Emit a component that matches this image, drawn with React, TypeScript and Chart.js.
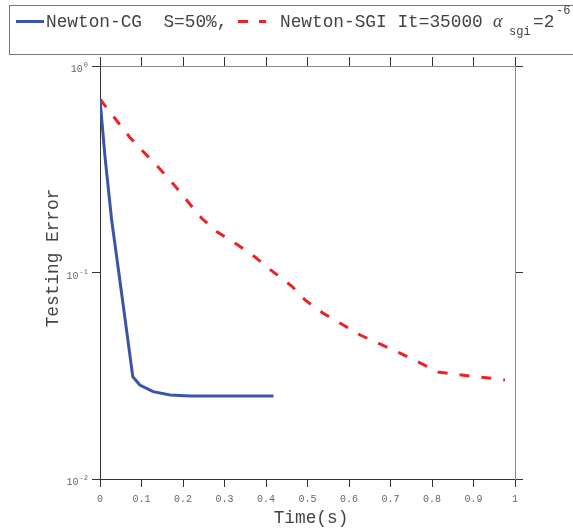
import React, { useEffect, useRef } from 'react';
import { Chart, registerables } from 'chart.js';

Chart.register(...registerables);

// Newton-CG (S=50%)
const cgTime = [0, 0.012, 0.028, 0.052, 0.079, 0.096, 0.128, 0.169, 0.217, 0.3, 0.418];
const cgError = [0.69, 0.364, 0.18, 0.0796, 0.0313, 0.0285, 0.0265, 0.0255, 0.0252, 0.0252, 0.0252];

// Newton-SGI (It=35000)
const sgiTime = [0, 0.072, 0.108, 0.144, 0.179, 0.212, 0.245, 0.283, 0.327, 0.371, 0.411, 0.462, 0.494, 0.537, 0.627, 0.723, 0.815, 0.851, 0.976];
const sgiError = [0.69, 0.451, 0.378, 0.318, 0.265, 0.22, 0.183, 0.157, 0.138, 0.12, 0.103, 0.086, 0.0736, 0.0637, 0.0498, 0.0407, 0.033, 0.0322, 0.0302];

const xTicks = [0, 0.1, 0.2, 0.3, 0.4, 0.5, 0.6, 0.7, 0.8, 0.9, 1];
const xTickLabels = ['0', '0.1', '0.2', '0.3', '0.4', '0.5', '0.6', '0.7', '0.8', '0.9', '1'];
const yTicks = [0.01, 0.1, 1];
const yTickExp = ['-2', '-1', '0'];

const xTitle = 'Time(s)';
const yTitle = 'Testing Error';
const cgLabel = 'Newton-CG  S=50%,';
const sgiLabel = 'Newton-SGI It=35000 ';

const MONO = '"Liberation Mono", "DejaVu Sans Mono", monospace';

const textPlugin = {
  id: 'customText',
  afterDraw(chart: any) {
    const ctx = chart.ctx as CanvasRenderingContext2D;
    const ys = chart.scales.y;
    ctx.save();
    // y tick labels with superscripts
    yTicks.forEach((v, i) => {
      const py = ys.getPixelForValue(v);
      ctx.font = `7px ${MONO}`;
      const sup = yTickExp[i];
      const sw = ctx.measureText(sup).width;
      const right = 88;
      ctx.fillStyle = '#666';
      ctx.textBaseline = 'alphabetic';
      ctx.textAlign = 'left';
      ctx.fillText(sup, right - sw, py + 1);
      ctx.font = `10px ${MONO}`;
      ctx.textAlign = 'right';
      ctx.fillText('10', right - sw - 1, py + 6);
    });

    // axis titles
    ctx.fillStyle = '#444';
    ctx.font = `17.8px ${MONO}`;
    ctx.textAlign = 'center';
    ctx.textBaseline = 'middle';
    ctx.fillText(xTitle, 311, 518);
    ctx.save();
    ctx.translate(53, 258);
    ctx.rotate(-Math.PI / 2);
    ctx.fillText(yTitle, 0, 0);
    ctx.restore();

    // legend box
    ctx.strokeStyle = '#777';
    ctx.lineWidth = 1;
    ctx.strokeRect(9.5, 5.5, 600, 49);

    // legend entries
    ctx.strokeStyle = '#3a55a8';
    ctx.lineWidth = 3;
    ctx.beginPath();
    ctx.moveTo(16, 21.5);
    ctx.lineTo(44, 21.5);
    ctx.stroke();

    ctx.fillStyle = '#444';
    ctx.font = `17.8px ${MONO}`;
    ctx.textAlign = 'left';
    ctx.textBaseline = 'alphabetic';
    ctx.fillText(cgLabel, 46, 27);

    ctx.strokeStyle = '#ee2225';
    ctx.beginPath();
    ctx.moveTo(238, 21.5);
    ctx.lineTo(248, 21.5);
    ctx.moveTo(259, 21.5);
    ctx.lineTo(266, 21.5);
    ctx.stroke();

    ctx.fillText(sgiLabel, 280, 27);
    ctx.font = `italic 18px "Liberation Serif", serif`;
    ctx.fillText('α', 493, 27);
    ctx.font = `12px ${MONO}`;
    ctx.fillText('sgi', 509, 35);
    ctx.font = `17.8px ${MONO}`;
    ctx.fillText('=2', 533, 27);
    ctx.font = `12px ${MONO}`;
    ctx.fillText('-6', 556, 14);
    ctx.restore();
  },
};

export default function App() {
  const ref = useRef<HTMLCanvasElement | null>(null);

  useEffect(() => {
    if (!ref.current) return;
    const setTicks = (vals: number[]) => (scale: any) => {
      scale.ticks = vals.map((v) => ({ value: v }));
    };
    const chart = new Chart(ref.current, {
      type: 'line',
      data: {
        datasets: [
          {
            label: 'Newton-CG',
            data: cgTime.map((t, i) => ({ x: t, y: cgError[i] })),
            borderColor: '#3a55a8',
            borderWidth: 3,
            pointRadius: 0,
            tension: 0,
            fill: false,
          },
          {
            label: 'Newton-SGI',
            data: sgiTime.map((t, i) => ({ x: t, y: sgiError[i] })),
            borderColor: '#ee2225',
            borderWidth: 3,
            borderDash: [10, 12],
            pointRadius: 0,
            tension: 0,
            fill: false,
          },
        ],
      },
      options: {
        responsive: false,
        devicePixelRatio: 1,
        animation: false,
        layout: { padding: 0 },
        plugins: { legend: { display: false }, tooltip: { enabled: false } },
        scales: {
          x: {
            type: 'linear',
            position: 'bottom',
            min: 0,
            max: 1,
            afterBuildTicks: setTicks(xTicks),
            afterFit: (s: any) => { s.height = 50; },
            ticks: {
              callback: (_v: any, i: number) => xTickLabels[i],
              font: { family: MONO, size: 10 },
              color: '#666',
              padding: 6,
              maxRotation: 0,
              autoSkip: false,
            },
            grid: { drawOnChartArea: false, drawTicks: true, tickLength: 8, color: '#333' },
            border: { display: true, color: '#333', width: 1 },
          },
          x2: {
            type: 'linear',
            position: 'top',
            min: 0,
            max: 1,
            afterBuildTicks: setTicks(xTicks),
            afterFit: (s: any) => { s.height = 66; },
            ticks: { display: false },
            grid: { drawOnChartArea: false, drawTicks: true, tickLength: 9, color: '#333' },
            border: { display: true, color: '#888', width: 1 },
          },
          y: {
            type: 'logarithmic',
            position: 'left',
            min: 0.01,
            max: 1,
            afterBuildTicks: setTicks(yTicks),
            afterFit: (s: any) => { s.width = 100; },
            ticks: { display: false },
            grid: { drawOnChartArea: false, drawTicks: true, tickLength: 8, color: '#333' },
            border: { display: true, color: '#333', width: 1 },
          },
          y2: {
            type: 'logarithmic',
            position: 'right',
            min: 0.01,
            max: 1,
            afterBuildTicks: setTicks(yTicks),
            afterFit: (s: any) => { s.width = 58; },
            ticks: { display: false },
            grid: { drawOnChartArea: false, drawTicks: true, tickLength: 8, color: '#333' },
            border: { display: true, color: '#888', width: 1 },
          },
        },
      } as any,
      plugins: [textPlugin],
    });
    return () => chart.destroy();
  }, []);

  return (
    <div style={{ position: 'absolute', left: 0, top: 0, width: 573, height: 529, background: '#fff' }}>
      <canvas ref={ref} width={573} height={529} style={{ display: 'block' }} />
    </div>
  );
}
